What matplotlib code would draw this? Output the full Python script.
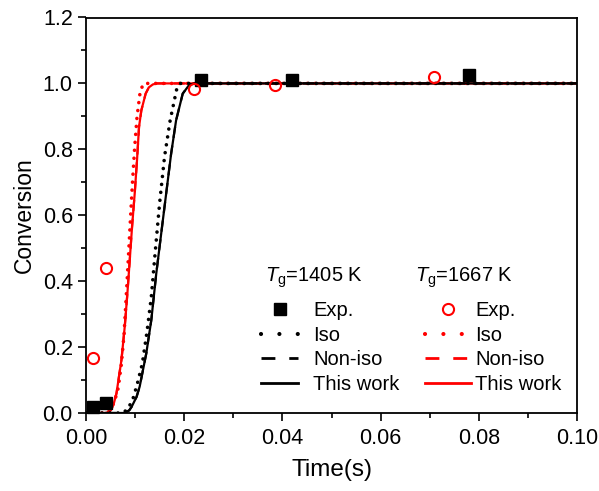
import matplotlib.pyplot as plt
import matplotlib.ticker as mticker
from matplotlib.lines import Line2D

plt.rcParams['font.family'] = 'Liberation Sans'
plt.rcParams['mathtext.fontset'] = 'custom'
plt.rcParams['mathtext.rm'] = 'Liberation Sans'
plt.rcParams['mathtext.it'] = 'Liberation Sans:italic'

# Experimental points
exp_t_1405 = [0.0015, 0.0040, 0.0234, 0.0419, 0.0781]
exp_x_1405 = [0.019, 0.031, 1.009, 1.010, 1.027]
exp_t_1667 = [0.00135, 0.0040, 0.0219, 0.0385, 0.0709]
exp_x_1667 = [0.166, 0.440, 0.984, 0.996, 1.018]

# Model curves, Tg = 1405 K
iso_t_1405 = [0.0, 0.0075, 0.0085, 0.0095, 0.01039, 0.01147, 0.01242, 0.0133, 0.0141,
              0.01498, 0.01599, 0.01714, 0.01849, 0.0192, 0.10]
iso_x_1405 = [0.0, 0.0, 0.012, 0.040, 0.085, 0.150, 0.246, 0.352, 0.489,
              0.635, 0.777, 0.888, 0.984, 1.0, 1.0]
work_t_1405 = [0.0, 0.0078, 0.0088, 0.0093, 0.0103, 0.01093, 0.01228, 0.0133, 0.01431,
               0.01532, 0.01633, 0.01734, 0.01835, 0.0197, 0.0211, 0.0225, 0.10]
work_x_1405 = [0.0, 0.0, 0.008, 0.019, 0.049, 0.080, 0.181, 0.282, 0.423,
               0.545, 0.666, 0.787, 0.888, 0.969, 0.997, 1.0, 1.0]
noniso_t_1405 = work_t_1405
noniso_x_1405 = work_x_1405

# Model curves, Tg = 1667 K
iso_t_1667 = [0.0, 0.0043, 0.0050, 0.0058, 0.00655, 0.00722, 0.00776, 0.00823, 0.00864,
              0.00904, 0.00945, 0.00992, 0.01039, 0.01107, 0.0118, 0.10]
iso_x_1667 = [0.0, 0.0, 0.010, 0.035, 0.075, 0.150, 0.241, 0.363, 0.474,
              0.585, 0.696, 0.807, 0.898, 0.979, 1.0, 1.0]
work_t_1667 = [0.0, 0.0042, 0.0050, 0.0056, 0.00621, 0.00722, 0.00789, 0.00843, 0.00891,
               0.00938, 0.00992, 0.01039, 0.0108, 0.01127, 0.01215, 0.0128, 0.01363,
               0.0145, 0.10]
work_x_1667 = [0.0, 0.0, 0.008, 0.025, 0.060, 0.161, 0.262, 0.363, 0.464,
               0.565, 0.666, 0.767, 0.868, 0.918, 0.969, 0.988, 0.997,
               1.0, 1.0]
noniso_t_1667 = work_t_1667
noniso_x_1667 = work_x_1667

W, H = 599, 491
fig = plt.figure(figsize=(W / 100, H / 100), dpi=100)
ax = fig.add_axes([86 / W, 1 - 413 / H, 491 / W, 395.5 / H])

lw = 1.6
dot = (0, (0.01, 2.2))
dash = (0, (5, 3.5))

# red set first so the black flat line sits on top
ax.plot(noniso_t_1667, noniso_x_1667, color='red', lw=lw, linestyle=dash)
ax.plot(iso_t_1667, iso_x_1667, color='red', lw=2.6, linestyle=dot,
        dash_capstyle='round')
ax.plot(work_t_1667, work_x_1667, color='red', lw=lw)
ax.plot(noniso_t_1405, noniso_x_1405, color='black', lw=lw, linestyle=dash)
ax.plot(iso_t_1405, iso_x_1405, color='black', lw=2.6, linestyle=dot,
        dash_capstyle='round')
ax.plot(work_t_1405, work_x_1405, color='black', lw=lw)

ax.plot(exp_t_1405, exp_x_1405, 's', color='black', ms=9,
        linestyle='none', clip_on=False, zorder=5)
ax.plot(exp_t_1667, exp_x_1667, 'o', mfc='none', mec='red', mew=1.5,
        ms=8, linestyle='none', clip_on=False, zorder=5)

ax.set_xlim(0, 0.10)
ax.set_ylim(0, 1.2)
ax.xaxis.set_major_locator(mticker.MultipleLocator(0.02))
ax.xaxis.set_minor_locator(mticker.MultipleLocator(0.01))
ax.yaxis.set_major_locator(mticker.MultipleLocator(0.2))
ax.yaxis.set_minor_locator(mticker.MultipleLocator(0.1))
ax.xaxis.set_major_formatter(mticker.FormatStrFormatter('%.2f'))
ax.yaxis.set_major_formatter(mticker.FormatStrFormatter('%.1f'))
ax.tick_params(which='both', direction='out', width=1.2, labelsize=15.5)
ax.tick_params(which='major', length=6)
ax.tick_params(axis='x', which='major', pad=5)
ax.tick_params(which='minor', length=3.5)
for s in ax.spines.values():
    s.set_linewidth(1.3)

ax.set_xlabel('Time(s)', fontsize=17.5, labelpad=7)
ax.set_ylabel('Conversion', fontsize=16.5, labelpad=5)

# legend handles, drawn with sparser patterns than the curves
def handles(color, exp_marker):
    if exp_marker == 's':
        exp = Line2D([], [], marker='s', color=color, ms=9, linestyle='none')
    else:
        exp = Line2D([], [], marker='o', mfc='none', mec=color, mew=1.5, ms=8,
                     linestyle='none')
    iso = Line2D([], [], color=color, lw=3, linestyle=(0, (0.01, 4.4)),
                 dash_capstyle='round')
    non = Line2D([], [], color=color, lw=2, linestyle=(0, (5, 5)))
    work = Line2D([], [], color=color, lw=2)
    return [exp, iso, non, work]

labels = ['Exp.', 'Iso', 'Non-iso', 'This work']
leg_kw = dict(frameon=False, fontsize=14.5, numpoints=1,
              labelspacing=0.28, borderpad=0.0,
              bbox_transform=fig.transFigure, loc='upper left')
leg1 = ax.legend(handles('black', 's'), labels, handlelength=1.85, handletextpad=0.75,
                 bbox_to_anchor=(251 / W, 1 - 291 / H), **leg_kw)
ax.add_artist(leg1)
ax.legend(handles('red', 'o'), labels, handlelength=2.3, handletextpad=0.2,
          bbox_to_anchor=(415 / W, 1 - 291 / H), **leg_kw)

fig.text(265 / W, 1 - 278 / H, r'$T_{\mathrm{g}}$=1405 K', fontsize=14.5,
         ha='left', va='center')
fig.text(415 / W, 1 - 278 / H, r'$T_{\mathrm{g}}$=1667 K', fontsize=14.5,
         ha='left', va='center')

fig.savefig('out.png', dpi=100)
